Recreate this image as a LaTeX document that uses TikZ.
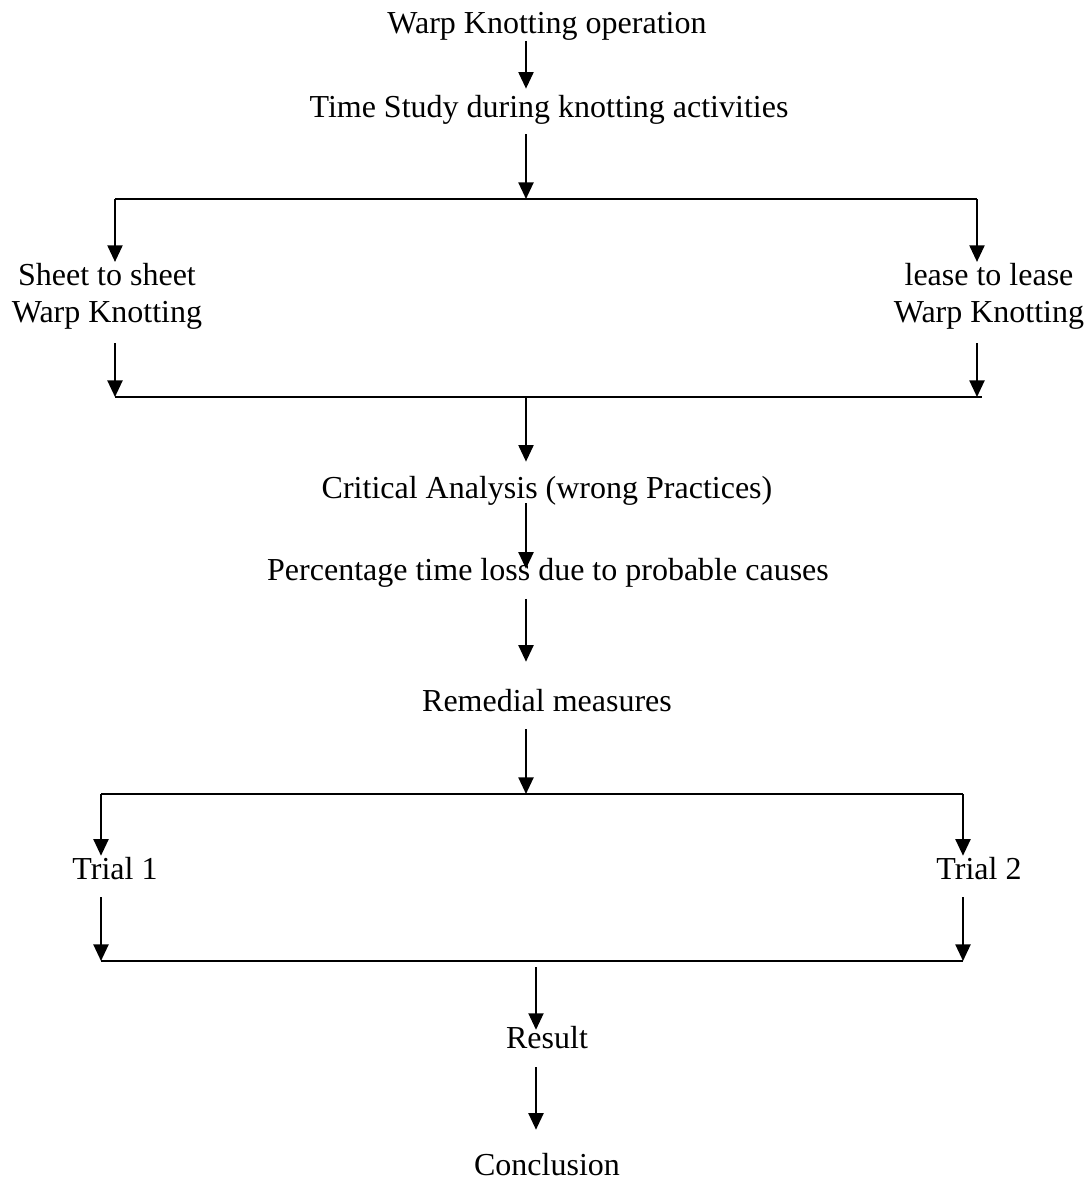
\documentclass[tikz,border=0pt]{standalone}
\usepackage{fontspec}
\setmainfont{Liberation Serif}
\usetikzlibrary{arrows.meta}

\begin{document}
\begin{tikzpicture}[x=0.375pt,y=-0.375pt,line width=0.8pt,
        txt/.style={inner sep=0pt,anchor=base,font=\fontsize{12}{13.8}\selectfont},
        arr/.style={-{Triangle[width=5.6pt,length=6.2pt]}}]
        \useasboundingbox (0,0) rectangle (1091,1180);

        % Nodos
        \node[txt] (op) at (547,33) {Warp Knotting operation};
        \node[txt] (study) at (549,117) {Time Study during knotting activities};
        \node[txt,align=center] (sheet) at (107,322) {Sheet to sheet\\Warp Knotting};
        \node[txt,align=center] (lease) at (989,322) {lease to lease\\Warp Knotting};
        \node[txt] (crit) at (547,498) {Critical Analysis (wrong Practices)};
        \node[txt] (perc) at (548,580) {Percentage time loss due to probable causes};
        \node[txt] (rem) at (547,711) {Remedial measures};
        \node[txt] (trial1) at (115,879) {Trial 1};
        \node[txt] (trial2) at (979,879) {Trial 2};
        \node[txt] (result) at (547,1048) {Result};
        \node[txt] (concl) at (547,1175) {Conclusion};

        % Lineas de union
        \coordinate (mid) at (526,0);
        \coordinate (mid2) at (536,0);
        \coordinate (b1l) at (115,199);
        \coordinate (b1r) at (977,199);
        \coordinate (b2l) at (115,397);
        \coordinate (b2r) at (977,397);
        \coordinate (b3l) at (101,794);
        \coordinate (b3r) at (963,794);
        \coordinate (b4l) at (101,961);
        \coordinate (b4r) at (963,961);

        \draw (b1l) -- (b1r);
        \draw (b2l) -- ([xshift=2pt]b2r);
        \draw (b3l) -- (b3r);
        \draw (b4l) -- (b4r);

        % Flechas
        \draw[arr,shorten >=1.9pt] (op.south -| mid) -- (study.north -| mid);
        \draw[arr,shorten <=3.4pt] (study.south -| mid) -- (b1l -| mid);
        \draw[arr] (b1l) -- (sheet.north -| b1l);
        \draw[arr] (b1r) -- (lease.north -| b1r);
        \draw[arr,shorten <=4.9pt] (sheet.south -| b2l) -- (b2l);
        \draw[arr,shorten <=4.9pt] (lease.south -| b2r) -- (b2r);
        \draw[arr,shorten >=4.9pt] (b2l -| mid) -- (crit.north -| mid);
        \draw[arr,shorten <=-1.1pt,shorten >=-4.5pt] (crit.south -| mid) -- (perc.north -| mid);
        \draw[arr,shorten <=4.1pt,shorten >=9.75pt] (perc.south -| mid) -- (rem.north -| mid);
        \draw[arr,shorten <=6.4pt] (rem.south -| mid) -- (b3l -| mid);
        \draw[arr] (b3l) -- (trial1.north -| b3l);
        \draw[arr] (b3r) -- (trial2.north -| b3r);
        \draw[arr,shorten <=6.4pt] (trial1.south -| b4l) -- (b4l);
        \draw[arr,shorten <=6.4pt] (trial2.south -| b4r) -- (b4r);
        \draw[arr,shorten <=2.25pt,shorten >=-1.9pt] (b4l -| mid2) -- (result.north -| mid2);
        \draw[arr,shorten <=6.75pt,shorten >=8.25pt] (result.south -| mid2) -- (concl.north -| mid2);
\end{tikzpicture}
\end{document}
